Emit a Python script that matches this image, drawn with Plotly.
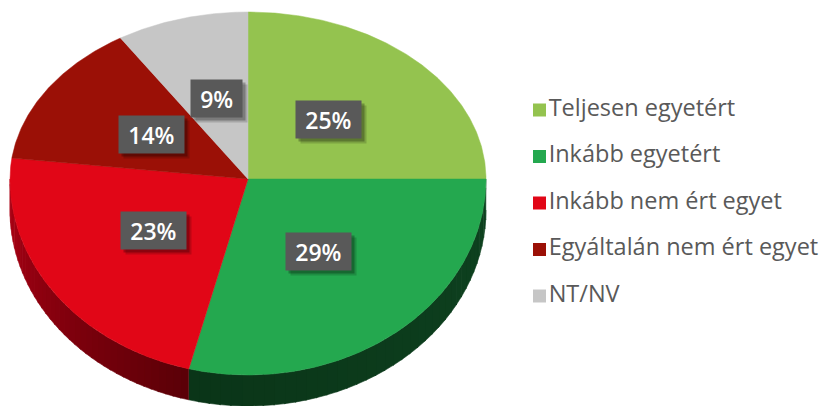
import math
import plotly.graph_objects as go

# ---- data ----
categories = ["Teljesen egyetért", "Inkább egyetért", "Inkább nem ért egyet",
              "Egyáltalán nem ért egyet", "NT/NV"]
values = [25, 29, 23, 14, 9]
top_colors = ["#94c34f", "#24a84f", "#e10617", "#9b1006", "#c6c6c6"]
side_colors = [("#33501c", "#33501c"), ("#0e4220", "#0a3518"),
               ("#5a0007", "#ad0014"), ("#5a0007", "#5a0007"), ("#777777", "#777777")]

# ---- geometry (pixel space) ----
W, H = 829, 406
cx, cy = 248, 179
rx, ry_top, ry_bot = 238, 167, 196
depth = 31


def pt(theta):
    t = math.radians(theta)
    s, c = math.sin(t), math.cos(t)
    ry = ry_top if c >= 0 else ry_bot
    return cx + rx * s, cy - ry * c


def hexmix(a, b, f):
    a = [int(a[i:i + 2], 16) for i in (1, 3, 5)]
    b = [int(b[i:i + 2], 16) for i in (1, 3, 5)]
    return "rgb(%d,%d,%d)" % tuple(round(a[k] + (b[k] - a[k]) * f) for k in range(3))


fig = go.Figure()

total = sum(values)
starts, ends = [], []
acc = 0
for v in values:
    starts.append(acc / total * 360)
    acc += v
    ends.append(acc / total * 360)

# sides (visible front half: 90..270 deg)
for i, (a0, a1) in enumerate(zip(starts, ends)):
    s0, s1 = max(a0, 90), min(a1, 270)
    if s1 <= s0:
        continue
    n = 40
    for k in range(n):
        t0 = s0 + (s1 - s0) * k / n
        t1 = s0 + (s1 - s0) * (k + 1) / n + 0.3
        t1 = min(t1, s1)
        steps = 4
        arc = [pt(t0 + (t1 - t0) * j / steps) for j in range(steps + 1)]
        xs = [p[0] for p in arc] + [p[0] for p in reversed(arc)]
        ys = [p[1] for p in arc] + [p[1] + depth for p in reversed(arc)]
        f = ((t0 + t1) / 2 - s0) / (s1 - s0)
        col = hexmix(side_colors[i][0], side_colors[i][1], f)
        fig.add_trace(go.Scatter(x=xs, y=ys, mode="lines", fill="toself",
                                 fillcolor=col, line=dict(width=0.6, color=col),
                                 hoverinfo="skip", showlegend=False))

# top faces
for i, (a0, a1) in enumerate(zip(starts, ends)):
    n = max(8, int((a1 - a0) * 2))
    arc = [pt(a0 + (a1 - a0) * j / n) for j in range(n + 1)]
    xs = [cx] + [p[0] for p in arc] + [cx]
    ys = [cy] + [p[1] for p in arc] + [cy]
    fig.add_trace(go.Scatter(x=xs, y=ys, mode="lines", fill="toself",
                             fillcolor=top_colors[i], line=dict(width=0.5, color=top_colors[i]),
                             name=categories[i], hoverinfo="name", showlegend=False))

# data labels
annotations = []
for i, (a0, a1) in enumerate(zip(starts, ends)):
    mid = (a0 + a1) / 2
    t = math.radians(mid)
    s, c = math.sin(t), math.cos(t)
    ry = ry_top if c >= 0 else ry_bot
    fy = 0.5 if c >= 0 else 0.465
    lx = cx + rx * 0.48 * s
    ly = cy - ry * fy * c
    txt = "%d%%" % round(values[i] / total * 100)
    tw = 13.4 * (len(txt) - 1) + 20
    for dx, dy, op in [(5, 5, 0.16), (3, 3, 0.26)]:
        annotations.append(dict(x=lx, y=ly, xref="x", yref="y", text="&nbsp;", showarrow=False,
                                xshift=dx, yshift=-dy, width=tw,
                                font=dict(family="Open Sans", size=23, color="rgba(0,0,0,0)"),
                                bgcolor="rgba(0,0,0,%.2f)" % op, borderpad=9, height=19))
    annotations.append(dict(x=lx, y=ly, xref="x", yref="y", text=txt, showarrow=False,
                            width=tw,
                            font=dict(family="Open Sans", size=23, color="white", weight=600),
                            bgcolor="#595959", borderpad=9, height=19))

# legend (manual, right side)
leg_x = 539.5
leg_y = [110 + 46.5 * i for i in range(len(categories))]
fig.add_trace(go.Scatter(x=[leg_x] * len(categories), y=leg_y, mode="markers+text",
                         marker=dict(symbol="square", size=13, color=top_colors),
                         text=categories, textposition="middle right",
                         textfont=dict(family="Open Sans", size=23.5, color="#595959"),
                         hoverinfo="skip", showlegend=False))

fig.update_layout(
    width=W, height=H, margin=dict(l=0, r=0, t=0, b=0),
    paper_bgcolor="white", plot_bgcolor="white",
    xaxis=dict(range=[0, W], visible=False, fixedrange=True),
    yaxis=dict(range=[H, 0], visible=False, fixedrange=True),
    annotations=annotations, showlegend=False,
)

fig.write_html("out.html", config={"displayModeBar": False},
               post_script="document.body.style.margin='0px';document.body.style.overflow='hidden';")
